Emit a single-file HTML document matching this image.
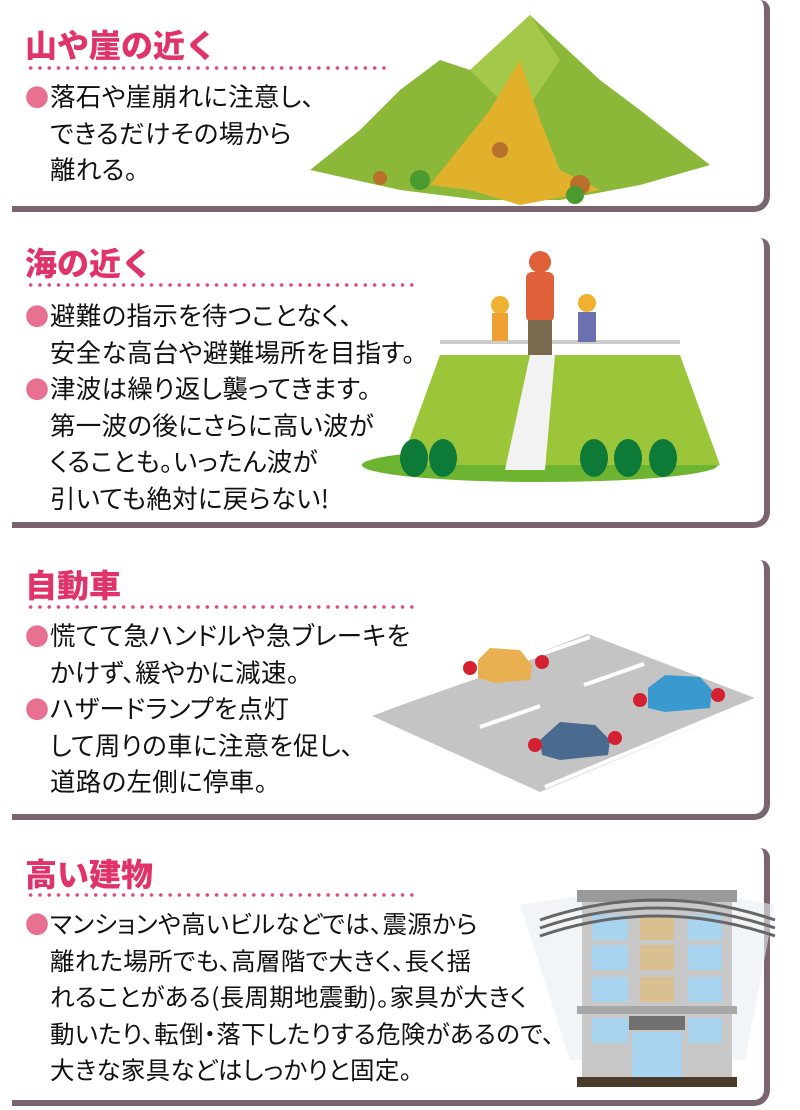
<!DOCTYPE html>
<html><head><meta charset="utf-8"><style>
*{margin:0;padding:0;box-sizing:border-box}
body{width:800px;height:1110px;background:#fff;position:relative;overflow:hidden;font-family:"Liberation Sans","Noto Sans CJK JP",sans-serif;color:#111}
.card{position:absolute;left:12px;width:758px;border-right:6px solid #7a6470;border-bottom:6px solid #7a6470;border-bottom-right-radius:16px;border-top-right-radius:10px}
.t{position:absolute;left:25px;font-family:"Noto Sans CJK JP",sans-serif;font-size:32px;font-weight:900;color:#e0336a;white-space:nowrap;line-height:40px}
.dot{position:absolute;left:26px;height:4px;background-image:radial-gradient(circle,#e04a7e 1.6px,transparent 2px);background-size:9.3px 4px}
.b{position:absolute;left:25px;font-family:"Noto Sans CJK JP",sans-serif;font-size:25.5px;line-height:36.5px;white-space:nowrap;font-feature-settings:"palt";letter-spacing:0.3px}
.b i{font-style:normal;color:#e87090;display:inline-block;width:25px;font-size:24px}
.b s{text-decoration:none;display:inline-block;width:25px}
</style></head><body>
<div class="card" style="top:0;height:212px"></div>
<div class="card" style="top:238px;height:290px"></div>
<div class="card" style="top:560px;height:260px"></div>
<div class="card" style="top:848px;height:258px"></div>

<div class="t" style="top:24px">山や崖の近く</div>
<div class="dot" style="top:66px;width:360px"></div>
<div class="b" style="top:78px"><i>●</i>落石や崖崩れに注意し、<br><s></s>できるだけその場から<br><s></s>離れる。</div>

<div class="t" style="top:242px">海の近く</div>
<div class="dot" style="top:283px;width:392px"></div>
<div class="b" style="top:297px"><i>●</i>避難の指示を待つことなく、<br><s></s>安全な高台や避難場所を目指す。<br><i>●</i>津波は繰り返し襲ってきます。<br><s></s>第一波の後にさらに高い波が<br><s></s>くることも。いったん波が<br><s></s>引いても絶対に戻らない!</div>

<div class="t" style="top:564px">自動車</div>
<div class="dot" style="top:605px;width:392px"></div>
<div class="b" style="top:617px"><i>●</i>慌てて急ハンドルや急ブレーキを<br><s></s>かけず、緩やかに減速。<br><i>●</i>ハザードランプを点灯<br><s></s>して周りの車に注意を促し、<br><s></s>道路の左側に停車。</div>

<div class="t" style="top:853px">高い建物</div>
<div class="dot" style="top:893px;width:392px"></div>
<div class="b" style="top:905px;font-size:24.5px"><i>●</i>マンションや高いビルなどでは、震源から<br><s></s>離れた場所でも、高層階で大きく、長く揺<br><s></s>れることがある(長周期地震動)。家具が大きく<br><s></s>動いたり、転倒・落下したりする危険があるので、<br><s></s>大きな家具などはしっかりと固定。</div>

<svg style="position:absolute;left:0;top:0" width="800" height="1110">
<polygon points="310,170 360,130 400,90 440,60 470,70 530,15 600,80 640,110 710,165 640,185 560,200 480,200 400,190" fill="#8cb83a"/>
<polygon points="470,70 530,15 560,60 520,120" fill="#a3c84a"/>
<polygon points="490,110 520,60 540,120 560,170 600,190 520,205 470,190 430,185" fill="#e2b12c"/>
<circle cx="500" cy="150" r="8" fill="#b8702a"/><circle cx="580" cy="185" r="10" fill="#b8702a"/><circle cx="420" cy="180" r="10" fill="#4a9a30"/><circle cx="575" cy="195" r="9" fill="#4a9a30"/><circle cx="380" cy="178" r="7" fill="#b8702a"/>
<ellipse cx="540" cy="465" rx="178" ry="17" fill="#6db531"/>
<polygon points="400,465 440,355 680,355 720,465" fill="#9cc63a"/>
<polygon points="505,470 530,355 555,355 545,470" fill="#f2f2f2"/>
<rect x="440" y="340" width="240" height="4" fill="#ccc"/>
<ellipse cx="414" cy="458" rx="14" ry="19" fill="#0e7a38"/><ellipse cx="443" cy="458" rx="14" ry="19" fill="#0e7a38"/>
<ellipse cx="594" cy="458" rx="14" ry="19" fill="#0e7a38"/><ellipse cx="628" cy="458" rx="14" ry="19" fill="#0e7a38"/><ellipse cx="663" cy="458" rx="14" ry="19" fill="#0e7a38"/>
<circle cx="540" cy="262" r="11" fill="#e0603a"/><rect x="526" y="272" width="28" height="50" rx="6" fill="#e0603a"/><rect x="528" y="320" width="24" height="35" fill="#7a6a50"/>
<circle cx="500" cy="305" r="9" fill="#f0b030"/><rect x="492" y="313" width="16" height="28" fill="#f0a030"/>
<circle cx="587" cy="303" r="9" fill="#f0b030"/><rect x="578" y="312" width="18" height="30" fill="#6a70b0"/>
<polygon points="372,716 588,634 760,700 540,792" fill="#c4c4c4"/>
<line x1="375" y1="712" x2="590" y2="637" stroke="#fff" stroke-width="4"/>
<line x1="545" y1="787" x2="760" y2="698" stroke="#fff" stroke-width="4"/>
<line x1="480" y1="727" x2="540" y2="706" stroke="#fff" stroke-width="4"/>
<line x1="584" y1="685" x2="644" y2="664" stroke="#fff" stroke-width="4"/>
<polygon points="478,660 490,648 520,650 532,665 530,680 495,683 478,678" fill="#e8b050"/>
<polygon points="648,688 665,675 700,677 712,690 710,708 665,712 648,708" fill="#3a9ad0"/>
<polygon points="540,740 560,722 595,725 610,740 608,755 560,760 542,755" fill="#4a6a90"/>
<circle cx="470" cy="668" r="7" fill="#d42030"/><circle cx="542" cy="662" r="7" fill="#d42030"/><circle cx="640" cy="700" r="7" fill="#d42030"/><circle cx="718" cy="695" r="7" fill="#d42030"/><circle cx="535" cy="745" r="7" fill="#d42030"/><circle cx="615" cy="738" r="7" fill="#d42030"/>
<path d="M520,905 Q657,880 775,905 L745,1060 L570,1060 Z" fill="#e8eef2" opacity="0.6"/>
<rect x="577" y="890" width="160" height="12" fill="#9a9a9a"/>
<rect x="582" y="902" width="150" height="175" fill="#c8c8c8"/>
<rect x="577" y="1006" width="160" height="8" fill="#a8a8a8"/>
<g fill="#a8d4f0">
<rect x="592" y="915" width="36" height="25"/><rect x="640" y="915" width="34" height="25" fill="#d8c090"/><rect x="688" y="915" width="34" height="25"/>
<rect x="592" y="945" width="36" height="25"/><rect x="640" y="945" width="34" height="25" fill="#d8c090"/><rect x="688" y="945" width="34" height="25"/>
<rect x="592" y="977" width="36" height="25"/><rect x="640" y="977" width="34" height="25" fill="#d8c090"/><rect x="688" y="977" width="34" height="25"/>
<rect x="592" y="1018" width="36" height="25"/><rect x="688" y="1018" width="34" height="25"/>
<rect x="632" y="1032" width="50" height="45"/></g>
<rect x="629" y="1016" width="56" height="14" fill="#707070"/>
<rect x="577" y="1077" width="160" height="10" fill="#4a3a2a"/>
<path d="M540,920 Q657,880 775,920 M540,928 Q657,888 775,928 M540,936 Q657,896 775,936" stroke="#666" stroke-width="3" fill="none"/>
</svg>
</body></html>
